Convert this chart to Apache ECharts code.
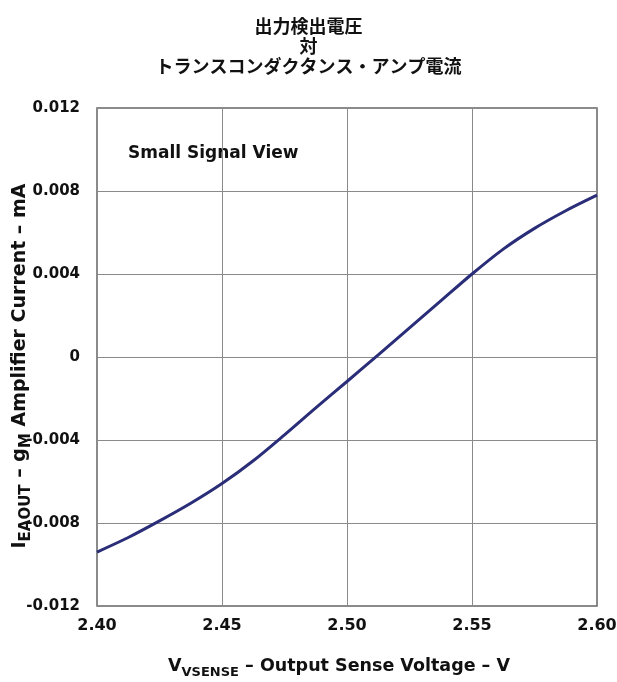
<!DOCTYPE html>
<html>
<head>
<meta charset="utf-8">
<script src="https://cdn.jsdelivr.net/npm/echarts@6/dist/echarts.min.js"></script>
<style>
html,body{margin:0;padding:0;background:#fff;}
#chart{width:617px;height:682px;}
</style>
</head>
<body>
<div id="chart"></div>
<script>
// Data
var voltage = [2.400, 2.4125, 2.425, 2.4375, 2.450, 2.4625, 2.475, 2.4875, 2.500, 2.5125, 2.525, 2.5375, 2.550, 2.5625, 2.575, 2.5875, 2.600];
var current = [-0.0094, -0.0087, -0.0079, -0.00705, -0.0061, -0.0050, -0.00375, -0.00245, -0.00118, 0.0001, 0.0014, 0.0027, 0.0040, 0.0052, 0.0062, 0.00705, 0.0078];
var xTickLabels = ['2.40', '2.45', '2.50', '2.55', '2.60'];
var yTickLabels = ['-0.012', '-0.008', '-0.004', '0', '0.004', '0.008', '0.012'];
var titleLines = ['出力検出電圧', '対', 'トランスコンダクタンス・アンプ電流'];
var annotation = 'Small Signal View';

var pts = voltage.map(function (v, i) { return [v, current[i]]; });
var FONT = '"DejaVu Sans", sans-serif';

var chart = echarts.init(document.getElementById('chart'), null, {renderer: 'canvas'});
chart.setOption({
  backgroundColor: '#ffffff',
  animation: false,
  title: {
    text: titleLines.join('\n'),
    left: 'center',
    top: 11,
    textStyle: {
      fontFamily: '"Noto Sans CJK JP", sans-serif',
      fontWeight: 'bold',
      fontSize: 18,
      lineHeight: 20,
      color: '#111'
    }
  },
  grid: {left: 97, right: 20, top: 108, bottom: 76, containLabel: false,
         outerBoundsMode: 'none',
         show: true, borderColor: '#666', borderWidth: 1.5},
  xAxis: {
    type: 'value', min: 2.40, max: 2.60, interval: 0.05,
    axisLine: {show: false}, axisTick: {show: false},
    splitLine: {show: true, lineStyle: {color: '#8a8a8a', width: 1}},
    axisLabel: {
      margin: 12, color: '#111', fontFamily: FONT, fontWeight: 'bold', fontSize: 16,
      formatter: function (v, i) { return xTickLabels[i]; }
    },
    name: '{m|V}{s|VSENSE}{m| – Output Sense Voltage – V}',
    nameLocation: 'middle', nameGap: 47, nameMoveOverlap: false,
    nameTextStyle: {
      padding: [0, 16, 0, 0],
      rich: {
        m: {fontFamily: FONT, fontWeight: 'bold', fontSize: 17.5, lineHeight: 26, color: '#111'},
        s: {fontFamily: FONT, fontWeight: 'bold', fontSize: 13, lineHeight: 13, verticalAlign: 'bottom', color: '#111'}
      }
    }
  },
  yAxis: {
    type: 'value', min: -0.012, max: 0.012, interval: 0.004,
    axisLine: {show: false}, axisTick: {show: false},
    splitLine: {show: true, lineStyle: {color: '#8a8a8a', width: 1}},
    axisLabel: {
      margin: 17, color: '#111', fontFamily: FONT, fontWeight: 'bold', fontSize: 15,
      formatter: function (v, i) { return yTickLabels[i]; }
    },
    name: '{m|I}{s|EAOUT}{m| – g}{s|M}{m| Amplifier Current – mA}',
    nameLocation: 'middle', nameRotate: 90, nameGap: 63, nameMoveOverlap: false,
    nameTextStyle: {
      padding: [0, 18, 0, 0],
      rich: {
        m: {fontFamily: FONT, fontWeight: 'bold', fontSize: 19, lineHeight: 28, color: '#111'},
        s: {fontFamily: FONT, fontWeight: 'bold', fontSize: 15, lineHeight: 14, verticalAlign: 'bottom', color: '#111'}
      }
    }
  },
  graphic: [{
    type: 'text', left: 128, top: 145,
    style: {text: annotation, fontFamily: FONT, fontWeight: 'bold', fontSize: 17, fill: '#111'}
  }],
  series: [{
    type: 'line', data: pts, smooth: 0.3, showSymbol: false,
    lineStyle: {color: '#2a2d78', width: 3}
  }]
});
</script>
</body>
</html>
